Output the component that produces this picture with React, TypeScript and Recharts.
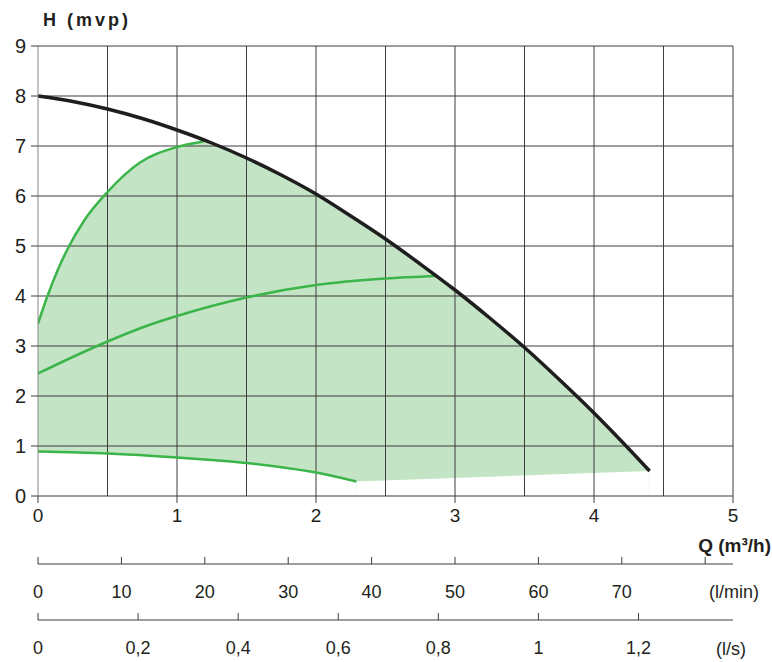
import React from 'react';
import { ComposedChart, XAxis, YAxis, Line, Area, ReferenceLine } from 'recharts';

// Axis ticks
const qTicks = [0, 1, 2, 3, 4, 5];
const hTicks = [0, 1, 2, 3, 4, 5, 6, 7, 8, 9];
const qGrid = [0.5, 1, 1.5, 2, 2.5, 3, 3.5, 4, 4.5, 5];
const hGrid = [1, 2, 3, 4, 5, 6, 7, 8, 9];
const lminTicks = [0, 10, 20, 30, 40, 50, 60, 70, 80];
const lminLabels = ['0', '10', '20', '30', '40', '50', '60', '70', ''];
const lsTicks = [0, 0.2, 0.4, 0.6, 0.8, 1, 1.2];
const lsLabels = ['0', '0,2', '0,4', '0,6', '0,8', '1', '1,2'];

// Max curve (black)
const maxQ = [0, 0.25, 0.5, 0.75, 1, 1.25, 1.5, 1.75, 2, 2.25, 2.5, 2.75, 3, 3.25, 3.5, 3.75, 4, 4.2, 4.4];
const maxH = [8.0, 7.89, 7.74, 7.55, 7.32, 7.06, 6.76, 6.42, 6.04, 5.6, 5.14, 4.64, 4.12, 3.56, 2.97, 2.33, 1.66, 1.09, 0.5];

// Upper green curve
const topQ = [0, 0.067, 0.139, 0.211, 0.33, 0.5, 0.734, 1.0, 1.19];
const topH = [3.45, 3.99, 4.5, 4.93, 5.5, 6.08, 6.67, 6.98, 7.09];

// Middle green curve
const midQ = [0, 0.25, 0.5, 0.8, 1, 1.5, 2, 2.5, 2.87];
const midH = [2.45, 2.78, 3.09, 3.42, 3.6, 3.97, 4.22, 4.35, 4.4];

// Lower green curve
const lowQ = [0, 0.5, 1, 1.25, 1.5, 1.765, 2, 2.29];
const lowH = [0.89, 0.85, 0.77, 0.72, 0.66, 0.57, 0.47, 0.29];

// Bottom edge of the working area (from end of low curve to end of max curve)
const edgeQ = [2.29, 4.4];
const edgeH = [0.29, 0.5];

const toPts = (qs: number[], hs: number[]) => qs.map((q, i) => ({ q, h: hs[i] }));

const maxData = toPts(maxQ, maxH);
const topData = toPts(topQ, topH);
const midData = toPts(midQ, midH);
const lowData = toPts(lowQ, lowH);
const edgeData = toPts(edgeQ, edgeH);
const fillTop = [...topData, ...maxData.filter((p) => p.q > topQ[topQ.length - 1])];

const FONT = '"Liberation Sans", Arial, sans-serif';
const TXT = '#231f20';
const GRID = '#3d3d3d';
const GREEN = '#3bb54a';
const FILL = '#c4e5c5';

const makeLowerTick = (ticks: number[], labels: string[]) => (props: any) => {
  const { x, y, payload } = props;
  const idx = ticks.findIndex((t) => Math.abs(t - payload.value) < 1e-6);
  const label = idx >= 0 ? labels[idx] : '';
  return (
    <g>
      <line x1={x} y1={y} x2={x} y2={y - 7} stroke={GRID} strokeWidth={1} />
      <text x={x} y={y + 28} textAnchor="middle" dominantBaseline="central" fontSize={18} fill={TXT} fontFamily={FONT}>
        {label}
      </text>
    </g>
  );
};

const unitLabel = (text: string, dx: number, dy: number, bold = false, size = 18) => (props: any) => {
  const vb = props.viewBox || {};
  return (
    <text
      x={vb.x + vb.width + dx}
      y={vb.y + dy}
      textAnchor="end"
      dominantBaseline="central"
      fontSize={size}
      fontWeight={bold ? 'bold' : 'normal'}
      fill={TXT}
      fontFamily={FONT}
    >
      {text}
    </text>
  );
};

const hLabel = (props: any) => {
  const vb = props.viewBox || {};
  return (
    <text x={vb.x + 43} y={vb.y - 26} dominantBaseline="central" fontSize={18} fontWeight="bold" fill={TXT} fontFamily={FONT} letterSpacing={3}>
      H (mvp)
    </text>
  );
};

export default function App() {
  return (
    <div style={{ position: 'absolute', left: 0, top: 0, background: '#fff' }}>
      <ComposedChart width={772} height={662} margin={{ top: 46, right: 39, bottom: 0, left: 0 }}>
        <XAxis
          xAxisId="a"
          type="number"
          dataKey="q"
          domain={[0, 5]}
          ticks={qTicks}
          allowDataOverflow
          height={68}
          tickSize={7}
          tickMargin={6}
          axisLine={{ stroke: GRID }}
          tickLine={{ stroke: GRID }}
          tick={{ fontSize: 19, fill: TXT, fontFamily: FONT }}
          label={{ content: unitLabel('Q (m³/h)', 38, 49, true, 19) }}
        />
        <XAxis
          xAxisId="b"
          type="number"
          dataKey="q"
          domain={[0, 5000 / 60]}
          ticks={lminTicks}
          allowDataOverflow
          height={56}
          tickSize={0}
          tickMargin={0}
          tickLine={false}
          axisLine={{ stroke: GRID }}
          tick={makeLowerTick(lminTicks, lminLabels)}
          label={{ content: unitLabel('(l/min)', 26, 28) }}
        />
        <XAxis
          xAxisId="c"
          type="number"
          dataKey="q"
          domain={[0, 5 / 3.6]}
          ticks={lsTicks}
          allowDataOverflow
          height={42}
          tickSize={0}
          tickMargin={0}
          tickLine={false}
          axisLine={{ stroke: GRID }}
          tick={makeLowerTick(lsTicks, lsLabels)}
          label={{ content: unitLabel('(l/s)', 13, 29) }}
        />
        <YAxis
          type="number"
          domain={[0, 9]}
          ticks={hTicks}
          allowDataOverflow
          width={38}
          tickSize={7}
          tickMargin={5}
          axisLine={{ stroke: '#888' }}
          tickLine={{ stroke: GRID }}
          tick={{ fontSize: 20, fill: TXT, fontFamily: FONT }}
          label={{ content: hLabel }}
        />
        <Area xAxisId="a" data={fillTop} dataKey="h" type="monotone" stroke="none" fill={FILL} fillOpacity={1} baseValue={0} isAnimationActive={false} />
        <Area xAxisId="a" data={lowData} dataKey="h" type="monotone" stroke="none" fill="#ffffff" fillOpacity={1} baseValue={0} isAnimationActive={false} />
        <Area xAxisId="a" data={edgeData} dataKey="h" type="linear" stroke="none" fill="#ffffff" fillOpacity={1} baseValue={0} isAnimationActive={false} />
        {qGrid.map((v) => (
          <ReferenceLine key={'qx' + v} xAxisId="a" x={v} stroke={GRID} strokeWidth={1} />
        ))}
        {hGrid.map((v) => (
          <ReferenceLine key={'hy' + v} xAxisId="a" y={v} stroke={GRID} strokeWidth={1} />
        ))}
        <Line xAxisId="a" data={lowData} dataKey="h" type="monotone" stroke={GREEN} strokeWidth={2.5} dot={false} isAnimationActive={false} />
        <Line xAxisId="a" data={midData} dataKey="h" type="monotone" stroke={GREEN} strokeWidth={2.5} dot={false} isAnimationActive={false} />
        <Line xAxisId="a" data={topData} dataKey="h" type="monotone" stroke={GREEN} strokeWidth={2.5} dot={false} isAnimationActive={false} />
        <Line xAxisId="a" data={maxData} dataKey="h" type="monotone" stroke="#1e1e1e" strokeWidth={3.5} dot={false} isAnimationActive={false} />
      </ComposedChart>
    </div>
  );
}
